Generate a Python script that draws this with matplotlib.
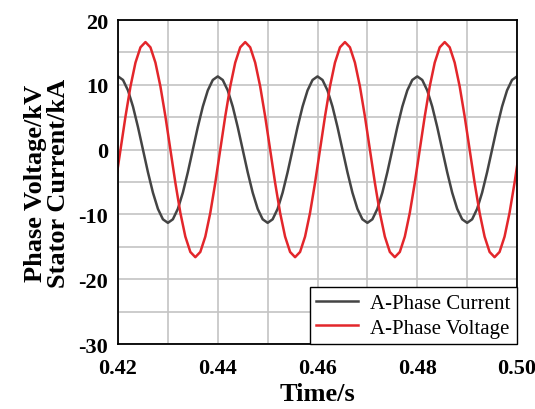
import numpy as np
import matplotlib.pyplot as plt
from matplotlib.ticker import MultipleLocator

# time axes (s) - samples
t_current = [0.420 + 0.001 * k for k in range(81)]
t_voltage = [0.4195 + 0.001 * k for k in range(82)]

# A-phase stator current (kA)
current = [
    11.3, 10.75, 9.14, 6.64, 3.49, 0.0, -3.49, -6.64, -9.14, -10.75,
    -11.3, -10.75, -9.14, -6.64, -3.49, 0.0, 3.49, 6.64, 9.14, 10.75,
    11.3, 10.75, 9.14, 6.64, 3.49, 0.0, -3.49, -6.64, -9.14, -10.75,
    -11.3, -10.75, -9.14, -6.64, -3.49, 0.0, 3.49, 6.64, 9.14, 10.75,
    11.3, 10.75, 9.14, 6.64, 3.49, 0.0, -3.49, -6.64, -9.14, -10.75,
    -11.3, -10.75, -9.14, -6.64, -3.49, 0.0, 3.49, 6.64, 9.14, 10.75,
    11.3, 10.75, 9.14, 6.64, 3.49, 0.0, -3.49, -6.64, -9.14, -10.75,
    -11.3, -10.75, -9.14, -6.64, -3.49, 0.0, 3.49, 6.64, 9.14, 10.75,
    11.3,
]

# A-phase voltage (kV)
voltage = [
    -5.13, 0.0, 5.13, 9.76, 13.43, 15.79, 16.6, 15.79, 13.43, 9.76,
    5.13, 0.0, -5.13, -9.76, -13.43, -15.79, -16.6, -15.79, -13.43, -9.76,
    -5.13, 0.0, 5.13, 9.76, 13.43, 15.79, 16.6, 15.79, 13.43, 9.76,
    5.13, 0.0, -5.13, -9.76, -13.43, -15.79, -16.6, -15.79, -13.43, -9.76,
    -5.13, 0.0, 5.13, 9.76, 13.43, 15.79, 16.6, 15.79, 13.43, 9.76,
    5.13, 0.0, -5.13, -9.76, -13.43, -15.79, -16.6, -15.79, -13.43, -9.76,
    -5.13, 0.0, 5.13, 9.76, 13.43, 15.79, 16.6, 15.79, 13.43, 9.76,
    5.13, 0.0, -5.13, -9.76, -13.43, -15.79, -16.6, -15.79, -13.43, -9.76,
    -5.13, 0.0,
]

x_ticks = [0.42, 0.44, 0.46, 0.48, 0.50]
y_ticks = [-30, -20, -10, 0, 10, 20]

plt.rcParams['font.family'] = ['Liberation Serif', 'DejaVu Serif']

fig = plt.figure(figsize=(5.35, 4.1), dpi=100)
ax = fig.add_axes([0.2206, 0.1585, 0.7458, 0.7902])

ax.plot(t_current, current, color='#444444', lw=1.8, label='A-Phase Current')
ax.plot(t_voltage, voltage, color='#e3262b', lw=1.8, label='A-Phase Voltage')

ax.set_xlim(0.42, 0.50)
ax.set_ylim(-30, 20)
ax.xaxis.set_minor_locator(MultipleLocator(0.01))
ax.yaxis.set_minor_locator(MultipleLocator(5))
ax.set_xticks(x_ticks)
ax.set_xticklabels([f'{v:.2f}' for v in x_ticks], fontweight='bold')
ax.set_yticks(y_ticks)
ax.set_yticklabels([str(v) for v in y_ticks], fontweight='bold')
ax.grid(which='both', color='#c4c4c4', lw=1.2)
ax.set_axisbelow(True)
ax.tick_params(which='both', length=0, labelsize=16)
ax.tick_params(axis='x', pad=10)
ax.tick_params(axis='y', pad=7)
for sp in ax.spines.values():
    sp.set_color('black')
    sp.set_linewidth(1.3)

ax.set_xlabel('Time/s', fontsize=19, fontweight='bold', labelpad=3)
ax.set_ylabel('Phase Voltage/kV\nStator Current/kA', fontsize=19,
              fontweight='bold', labelpad=6, linespacing=1.0)

leg = ax.legend(loc='lower right', fontsize=15, frameon=True, fancybox=False,
                borderaxespad=0, handlelength=2.0, borderpad=0.3,
                labelspacing=0.25, handletextpad=0.6)
leg.get_frame().set_edgecolor('black')
leg.get_frame().set_linewidth(1.0)
leg.get_frame().set_alpha(1)

fig.savefig('out.png', dpi=100)
